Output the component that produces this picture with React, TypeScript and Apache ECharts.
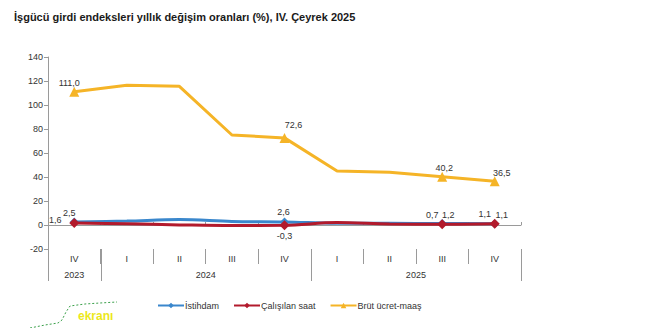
import React, { useEffect, useRef } from "react";
import * as echarts from "echarts";

const title = "İşgücü girdi endeksleri yıllık değişim oranları (%), IV. Çeyrek 2025";
const quarters = ["IV", "I", "II", "III", "IV", "I", "II", "III", "IV"];
const years = ["2023", "2024", "2025"];
const yearSpans = [1, 4, 4];
const istihdam = [2.5, 3.3, 4.5, 3.0, 2.6, 1.5, 1.4, 1.2, 1.1];
const calisilanSaat = [1.6, 1.0, 0.1, -0.5, -0.3, 2.0, 0.9, 0.7, 1.1];
const brutUcret = [111.0, 116.5, 115.6, 75.0, 72.6, 45.0, 44.0, 40.2, 36.5];
const seriesNames = ["İstihdam", "Çalışılan saat", "Brüt ücret-maaş"];
const labeledIdx = [0, 4, 7, 8];
const yMin = -20;
const yMax = 140;
const yStep = 20;

const FONT = "'Liberation Sans', Arial, sans-serif";
const TXT = "#333333";

const fmt = (v: number) => v.toFixed(1).replace(".", ",");

// label placement per series & labelled point: [position, dx, dy]
const blueLabel: Record<number, [string, number, number]> = {
  0: ["top", -5, 0],
  4: ["top", -1, -1],
  7: ["top", 6, 0],
  8: ["top", 7, 0],
};
const redLabel: Record<number, [string, number, number]> = {
  0: ["top", -19, 6],
  4: ["bottom", 0, 1],
  7: ["top", -10, 0],
  8: ["top", -10, 0],
};
const yellowLabel: Record<number, [string, number, number]> = {
  0: ["top", -5, 1],
  4: ["top", 9, -3],
  7: ["top", 2, 1],
  8: ["top", 7, 1],
};

function buildData(vals: number[], labels: Record<number, [string, number, number]>) {
  return vals.map((v, i) => {
    if (labeledIdx.indexOf(i) < 0) return { value: v, symbol: "none" };
    const [pos, dx, dy] = labels[i];
    return {
      value: v,
      label: {
        show: true,
        position: pos,
        distance: 0,
        offset: [dx, dy],
        formatter: () => fmt(v),
        fontSize: 9,
        color: TXT,
        fontFamily: FONT,
      },
    };
  });
}

export default function App() {
  const ref = useRef<HTMLDivElement>(null);
  useEffect(() => {
    const chart = echarts.init(ref.current!, null, { renderer: "svg" });
    const option: any = {
      animation: false,
      backgroundColor: "#ffffff",
      textStyle: { fontFamily: FONT },
      grid: { left: 48, right: 143, top: 57, bottom: 79, containLabel: false },
      legend: {
        data: seriesNames,
        left: 152,
        top: 296,
        itemWidth: 26,
        itemHeight: 7,
        itemGap: 14,
        textStyle: { fontSize: 9, color: TXT, fontFamily: FONT, padding: [0, 0, 0, -4] },
      },
      xAxis: [
        {
          type: "category",
          data: quarters,
          boundaryGap: true,
          axisLine: { show: true, onZero: true, lineStyle: { color: "#9a9a9a", width: 1 } },
          axisTick: { show: true, inside: true, length: 3, lineStyle: { color: "#9a9a9a" } },
          axisLabel: { show: false },
          splitLine: { show: false },
        },
        {
          type: "category",
          data: quarters,
          position: "bottom",
          boundaryGap: true,
          axisLine: { show: false, onZero: false },
          axisTick: { show: true, length: 15, lineStyle: { color: "#9a9a9a" } },
          axisLabel: { show: true, margin: 5, fontSize: 9, color: TXT, fontFamily: FONT },
          splitLine: { show: false },
        },
      ],
      yAxis: {
        type: "value",
        min: yMin,
        max: yMax,
        interval: yStep,
        axisLine: { show: true, lineStyle: { color: "#9a9a9a" } },
        axisTick: { show: true, length: 4, lineStyle: { color: "#9a9a9a" } },
        axisLabel: { fontSize: 9, color: TXT, fontFamily: FONT, margin: 5 },
        splitLine: { show: false },
      },
      series: [
        {
          name: seriesNames[0],
          type: "line",
          data: buildData(istihdam, blueLabel),
          smooth: 0.35,
          symbol: "diamond",
          symbolSize: 9,
          showSymbol: true,
          lineStyle: { color: "#3a87cc", width: 3 },
          itemStyle: { color: "#3a87cc" },
          z: 2,
        },
        {
          name: seriesNames[1],
          type: "line",
          data: buildData(calisilanSaat, redLabel),
          smooth: 0.35,
          symbol: "diamond",
          symbolSize: 10,
          showSymbol: true,
          lineStyle: { color: "#b21a2c", width: 3 },
          itemStyle: { color: "#b21a2c" },
          z: 3,
        },
        {
          name: seriesNames[2],
          type: "line",
          data: buildData(brutUcret, yellowLabel),
          smooth: false,
          symbol: "triangle",
          symbolSize: 10,
          showSymbol: true,
          lineStyle: { color: "#f5b427", width: 3 },
          itemStyle: { color: "#f5b427" },
          z: 4,
        },
      ],
      graphic: [
        {
          type: "text",
          left: 14,
          top: 11,
          style: { text: title, fontSize: 11, fontWeight: "bold", fill: "#1a1a1a", fontFamily: FONT },
        },
        {
          type: "polyline",
          shape: {
            points: [
              [30, 328], [45, 325], [58, 323], [62, 320], [66, 312], [70, 306],
              [85, 304], [100, 303], [117, 302],
            ],
          },
          style: { stroke: "#3aa04a", lineWidth: 1, lineDash: [2, 2], fill: null },
        },
        {
          type: "text",
          left: 78,
          top: 310,
          style: { text: "ekranı", fontSize: 12, fontWeight: "bold", fill: "#ece81c", fontFamily: FONT },
        },
      ],
    };
    chart.setOption(option);

    // year labels and long separators derived from the axis scale
    const c0 = chart.convertToPixel({ xAxisIndex: 0 }, 0) as number;
    const c1 = chart.convertToPixel({ xAxisIndex: 0 }, 1) as number;
    const bw = c1 - c0;
    const yBottom = chart.convertToPixel({ yAxisIndex: 0 }, yMin) as number;
    const extra: any[] = [];
    let start = 0;
    const bounds: number[] = [0];
    years.forEach((yr, i) => {
      const end = start + yearSpans[i];
      bounds.push(end);
      const xs = c0 - bw / 2 + start * bw;
      const xe = c0 - bw / 2 + end * bw;
      extra.push({
        type: "text",
        x: (xs + xe) / 2,
        y: yBottom + 26,
        style: { text: yr, fontSize: 9, fill: TXT, fontFamily: FONT, align: "center", verticalAlign: "middle" },
      });
      start = end;
    });
    bounds.forEach((b) => {
      const x = Math.round(c0 - bw / 2 + b * bw) + 0.5;
      extra.push({
        type: "line",
        shape: { x1: x, y1: yBottom, x2: x, y2: yBottom + 32 },
        style: { stroke: "#9a9a9a", lineWidth: 1 },
      });
    });
    chart.setOption({ graphic: [...option.graphic, ...extra] }, { replaceMerge: ["graphic"] });

    return () => chart.dispose();
  }, []);
  return (
    <div
      ref={ref}
      style={{ position: "fixed", left: 0, top: 0, width: 664, height: 328, background: "#fff" }}
    />
  );
}
